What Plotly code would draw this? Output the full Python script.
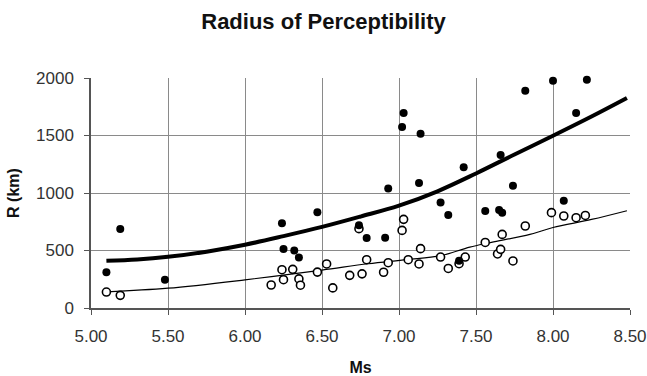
import plotly.graph_objects as go

# Filled circles (upper data set)
filled_ms = [5.10, 5.19, 5.48, 6.24, 6.25, 6.32, 6.35, 6.47, 6.74, 6.79,
             6.91, 6.93, 7.02, 7.03, 7.13, 7.14, 7.27, 7.32, 7.39, 7.42,
             7.56, 7.65, 7.66, 7.67, 7.74, 7.82, 8.00, 8.07, 8.15, 8.22]
filled_r = [310, 687, 246, 736, 513, 501, 440, 832, 720, 609,
            611, 1040, 1574, 1696, 1087, 1516, 918, 809, 410, 1223,
            843, 852, 1330, 829, 1063, 1890, 1977, 933, 1696, 1985]

# Open circles (lower data set)
open_ms = [5.10, 5.19, 6.17, 6.24, 6.25, 6.31, 6.35, 6.36, 6.47, 6.53,
           6.57, 6.68, 6.74, 6.76, 6.79, 6.90, 6.93, 7.02, 7.03, 7.06,
           7.13, 7.14, 7.27, 7.32, 7.39, 7.43, 7.56, 7.64, 7.66, 7.67,
           7.74, 7.82, 7.99, 8.07, 8.15, 8.21]
open_r = [139, 110, 200, 333, 246, 336, 253, 198, 312, 383,
          175, 284, 690, 297, 420, 311, 394, 675, 771, 420,
          383, 516, 443, 344, 385, 443, 570, 470, 510, 640,
          409, 713, 829, 800, 785, 805]

# Upper (thick) fitted curve
upper_ms = [5.10, 5.30, 5.50, 5.75, 6.00, 6.25, 6.50, 6.75, 7.00, 7.25,
            7.50, 7.75, 8.00, 8.25, 8.48]
upper_r = [411, 422, 445, 490, 550, 625, 705, 795, 890, 1015,
           1170, 1335, 1498, 1665, 1826]

# Lower (thin) fitted curve
lower_ms = [5.10, 5.50, 6.00, 6.50, 6.80, 7.05, 7.27, 7.46, 7.60, 7.85,
            8.00, 8.25, 8.48]
lower_r = [140, 172, 245, 330, 385, 420, 455, 530, 570, 640,
           700, 770, 846]

x_ticks = [5.0, 5.5, 6.0, 6.5, 7.0, 7.5, 8.0, 8.5]
y_ticks = [0, 500, 1000, 1500, 2000]

FONT = "Liberation Sans, Arial, sans-serif"

fig = go.Figure()
fig.add_trace(go.Scatter(x=upper_ms, y=upper_r, mode="lines",
                         line=dict(color="black", width=4, shape="spline"),
                         hoverinfo="skip"))
fig.add_trace(go.Scatter(x=lower_ms, y=lower_r, mode="lines",
                         line=dict(color="black", width=1.2, shape="spline"),
                         hoverinfo="skip"))
fig.add_trace(go.Scatter(x=open_ms, y=open_r, mode="markers",
                         marker=dict(symbol="circle", size=8, color="white",
                                     line=dict(color="black", width=1.6)),
                         cliponaxis=False))
fig.add_trace(go.Scatter(x=filled_ms, y=filled_r, mode="markers",
                         marker=dict(symbol="circle", size=8, color="black",
                                     line=dict(color="black", width=0)),
                         cliponaxis=False))

fig.update_layout(
    width=647, height=376,
    margin=dict(l=91, r=17, t=78, b=68),
    paper_bgcolor="white", plot_bgcolor="white",
    showlegend=False,
    font=dict(family=FONT, color="#333333", size=17),
    title=dict(text="<b>Radius of Perceptibility</b>", x=0.5, xanchor="center",
               y=1 - 21 / 376, yanchor="middle",
               font=dict(family=FONT, size=22, color="#111111")),
)
fig.update_xaxes(
    range=[5.0, 8.5], tickvals=x_ticks, tickformat=".2f",
    automargin=False,
    showgrid=True, gridcolor="#8a8a8a", gridwidth=1.4,
    showline=True, linecolor="#555555", linewidth=1.5,
    ticks="outside", ticklen=5, tickcolor="#555555", tickwidth=1.2,
    ticklabelstandoff=7,
    tickfont=dict(family=FONT, size=17, color="#333333"),
    title=dict(text="<b>Ms</b>", standoff=18,
               font=dict(family=FONT, size=16, color="#111111")),
    zeroline=False,
)
fig.update_yaxes(
    range=[0, 2000], tickvals=y_ticks,
    automargin=False,
    showgrid=True, gridcolor="#8a8a8a", gridwidth=1.4,
    showline=True, linecolor="#555555", linewidth=1.5,
    ticks="outside", ticklen=5, tickcolor="#555555", tickwidth=1.2,
    ticklabelstandoff=7,
    tickfont=dict(family=FONT, size=17, color="#333333"),
    title=dict(text="<b>R (km)</b>", standoff=12,
               font=dict(family=FONT, size=16, color="#111111")),
    zeroline=False,
)

fig.write_html("out.html")
